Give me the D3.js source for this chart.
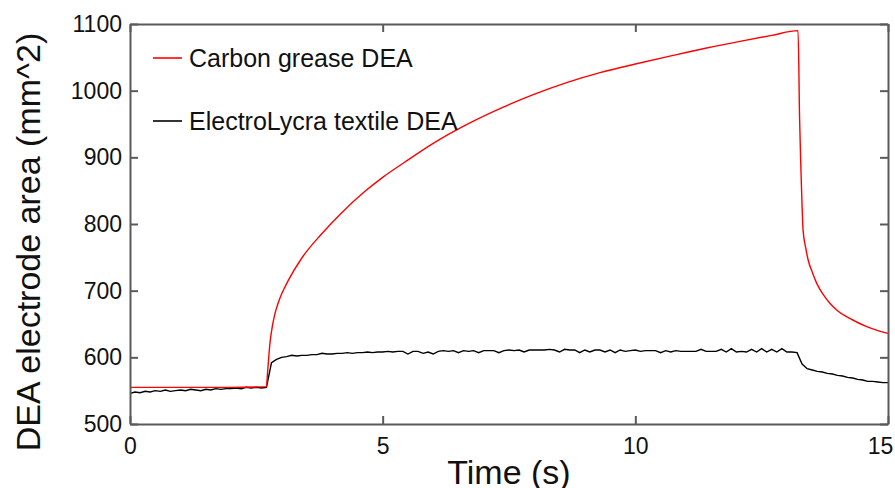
<!DOCTYPE html>
<html>
<head>
<meta charset="utf-8">
<script src="https://cdn.jsdelivr.net/npm/d3@7"></script>
<style>
  body { margin: 0; background: #fff; }
  svg { font-family: "Liberation Sans", Arial, sans-serif; }
</style>
</head>
<body>
<svg id="chart" width="895" height="488"></svg>
<script>
// values
var xTicks = [0, 5, 10, 15];
var yTicks = [500, 600, 700, 800, 900, 1000, 1100];
var seriesNames = ["Carbon grease DEA", "ElectroLycra textile DEA"];
var seriesColors = ["#ff0000", "#000000"];

// carbon grease: smooth, sampled at uneven times
var redTime = [0, 1.0, 2.0, 2.70, 2.72, 2.75, 2.78, 2.82, 2.87, 2.93, 3.0, 3.07, 3.13, 3.40, 3.79, 4.19, 4.65, 5.0, 5.44,
  6.0, 6.66, 7.32, 7.98, 8.64, 9.30, 10.0, 10.75, 11.41, 12.07, 12.70, 13.22,
  13.25, 13.27, 13.29, 13.32, 13.37, 13.42, 13.50, 13.59, 13.72, 13.85, 14.0, 14.18, 14.38, 14.58, 14.80, 15.0];
var redArea = [555, 555, 555, 556, 575, 605, 628, 648, 666, 681, 695, 706, 715, 749, 785, 817, 849, 870, 893,
  921, 949, 973, 994, 1012, 1027, 1040, 1053, 1064, 1074, 1083, 1090,
  960, 900, 850, 790, 765, 746, 728, 711, 694, 681, 670, 661, 653, 646, 640, 636];

// textile: noisy trace, one sample every 0.1 s from t = 0
var blackStep = 0.1;
var blackArea = [
  546, 548, 547, 549, 548, 550, 549, 551, 549, 550,
  551, 550, 552, 551, 550, 552, 551, 553, 552, 553,
  553, 554, 553, 555, 554, 555, 554, 555, 592, 597,
  600, 601, 603, 602, 603, 603, 604, 604, 606, 605,
  605, 606, 606, 607, 606, 607, 607, 608, 607, 608,
  608, 609, 608, 609, 609, 605, 609, 609, 606, 608,
  605, 609, 610, 609, 610, 607, 610, 609, 610, 607,
  610, 610, 610, 607, 610, 611, 610, 611, 608, 611,
  611, 611, 611, 612, 611, 608, 612, 611, 611, 607,
  611, 608, 611, 611, 608, 611, 607, 611, 609, 610,
  611, 609, 610, 610, 610, 607, 610, 608, 610, 609,
  609, 609, 609, 612, 609, 609, 609, 612, 608, 613,
  608, 609, 608, 612, 608, 613, 608, 612, 608, 613,
  608, 608, 607, 590, 583, 581, 579, 578, 576, 575,
  573, 572, 570, 569, 567, 566, 564, 564, 563, 562,
  562];

var svg = d3.select("#chart");
var margin = {left: 130, right: 7, top: 24, bottom: 64};
var width = 895 - margin.left - margin.right;
var height = 488 - margin.top - margin.bottom;
var axisColor = "#5a5a5a";

var x = d3.scaleLinear().domain([0, 15]).range([margin.left, margin.left + width]);
var y = d3.scaleLinear().domain([500, 1100]).range([margin.top + height, margin.top]);

var redData = redTime.map(function(t, i) { return [t, redArea[i]]; });
var blackData = blackArea.map(function(v, i) { return [i * blackStep, v]; });

var plot = svg.append("g");

plot.append("path")
    .datum(blackData)
    .attr("fill", "none")
    .attr("stroke", seriesColors[1])
    .attr("stroke-width", 1.4)
    .attr("d", d3.line().x(d => x(d[0])).y(d => y(d[1])));

plot.append("path")
    .datum(redData)
    .attr("fill", "none")
    .attr("stroke", seriesColors[0])
    .attr("stroke-width", 1.4)
    .attr("d", d3.line().curve(d3.curveMonotoneX).x(d => x(d[0])).y(d => y(d[1])));

// axes, ticks inside on all four sides
function styleAxis(g) {
    g.selectAll(".domain").attr("stroke", axisColor).attr("stroke-width", 2);
    g.selectAll(".tick line").attr("stroke", axisColor).attr("stroke-width", 2);
    g.selectAll("text").attr("fill", "#111").attr("font-size", 23);
}

var xAxis = svg.append("g")
    .attr("transform", "translate(0," + (margin.top + height) + ")")
    .call(d3.axisBottom(x).tickValues(xTicks).tickFormat(d3.format("d"))
        .tickSizeInner(-8).tickSizeOuter(0).tickPadding(14))
    .call(styleAxis);
// last label sits just inside the window edge
xAxis.selectAll(".tick text").filter(d => d === 15).attr("dx", -8);

svg.append("g")
    .attr("transform", "translate(0," + margin.top + ")")
    .call(d3.axisTop(x).tickValues(xTicks).tickSizeInner(-8).tickSizeOuter(0).tickFormat(""))
    .call(styleAxis);

svg.append("g")
    .attr("transform", "translate(" + margin.left + ",0)")
    .call(d3.axisLeft(y).tickValues(yTicks).tickFormat(d3.format("d"))
        .tickSizeInner(-8).tickSizeOuter(0).tickPadding(8))
    .call(styleAxis);

svg.append("g")
    .attr("transform", "translate(" + (margin.left + width) + ",0)")
    .call(d3.axisRight(y).tickValues(yTicks).tickSizeInner(-8).tickSizeOuter(0).tickFormat(""))
    .call(styleAxis);

// axis titles
svg.append("text")
    .attr("x", margin.left + width / 2)
    .attr("y", 484)
    .attr("text-anchor", "middle")
    .attr("font-size", 34)
    .attr("fill", "#111")
    .text("Time (s)");

svg.append("text")
    .attr("transform", "translate(40," + (margin.top + height / 2 + 18) + ") rotate(-90)")
    .attr("text-anchor", "middle")
    .attr("font-size", 34)
    .attr("fill", "#111")
    .text("DEA electrode area (mm^2)");

// legend
var legend = svg.append("g");
seriesNames.forEach(function(name, i) {
    var ly = 58 + i * 63;
    legend.append("line")
        .attr("x1", 153).attr("x2", 182)
        .attr("y1", ly).attr("y2", ly)
        .attr("stroke", seriesColors[i])
        .attr("stroke-width", 1.6);
    legend.append("text")
        .attr("x", 189)
        .attr("y", ly + 9)
        .attr("font-size", 25)
        .attr("fill", "#111")
        .text(name);
});
</script>
</body>
</html>
